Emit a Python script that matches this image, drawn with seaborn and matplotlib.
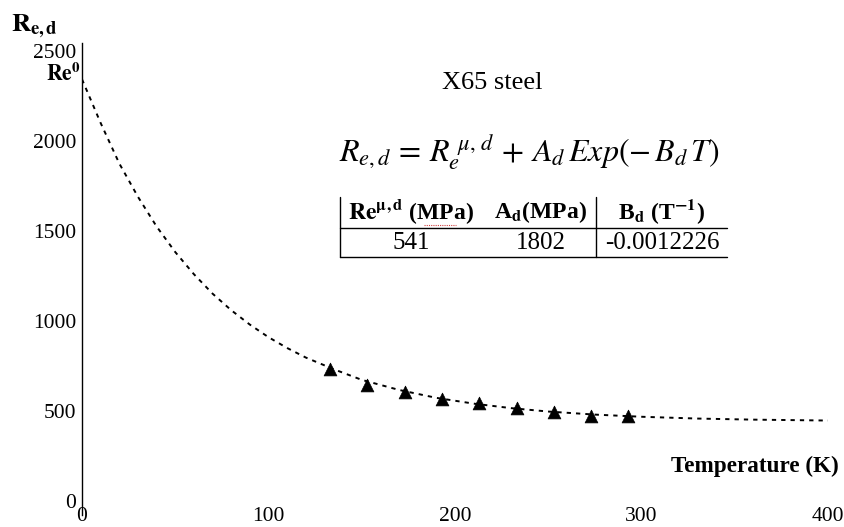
import numpy as np
import pandas as pd
import matplotlib
matplotlib.use("Agg")
import matplotlib.pyplot as plt
import matplotlib.transforms as mtransforms
from matplotlib.lines import Line2D
from matplotlib.ticker import MultipleLocator
import seaborn as sns

# ---- data ----
fit_T = [0, 10, 20, 30, 40, 50, 60, 70, 80, 90, 100, 110, 120, 135, 150, 170,
         190, 210, 230, 250, 275, 300, 330, 360, 400]
fit_R = [2343, 2100, 1875, 1690, 1525, 1383, 1260, 1152, 1060, 980, 910, 850,
         797, 732, 673, 617, 573, 541, 516, 497, 480, 468, 458, 452, 447]

exp_T = [133, 153, 173, 193, 213, 233, 253, 273, 293]
exp_R = [733, 645, 606, 566, 542, 515, 496, 472, 470]

table_headers = [r"$\mathbf{Re}^{\mathbf{\mu,d}}$ (MPa)", r"A$_{\mathbf{d}}$(MPa)", r"B$_{\mathbf{d}}$ (T$^{\mathbf{-1}}$)"]
table_values = ["541", "1802", "-0.0012226"]
RE_MU_D = 541
A_D = 1802

x_ticks = [0, 100, 200, 300, 400]
y_ticks = [0, 500, 1000, 1500, 2000, 2500]

# ---- style ----
sns.set_style("white")
plt.rcParams["font.family"] = ["Liberation Serif", "DejaVu Serif"]
plt.rcParams["mathtext.fontset"] = "stix"

W, H = 845, 527
fig = plt.figure(figsize=(W / 100, H / 100), dpi=100)

def fx(px):
    return px / W

def fy(py):
    return 1 - py / H

# axes: x 0..400 -> px 82..828 ; y scale 0.18 px/unit, y=0 at px 501
y_lo, y_hi = -80, 2545
top_px = 501 - y_hi * 0.18
bot_px = 501 - y_lo * 0.18
ax = fig.add_axes([fx(82), fy(bot_px), fx(828) - fx(82), (bot_px - top_px) / H])

fit_df = pd.DataFrame({"T": fit_T, "R": fit_R})
exp_df = pd.DataFrame({"T": exp_T, "R": exp_R})

sns.lineplot(data=fit_df, x="T", y="R", ax=ax, color="black", lw=1.4,
             linestyle=(0, (2.2, 2.6)), estimator=None, sort=True)
sns.scatterplot(data=exp_df, x="T", y="R", ax=ax, marker="^", s=85,
                color="black", edgecolor="black", linewidth=0.5, zorder=5)

ax.set_xlim(0, 400)
ax.set_ylim(y_lo, y_hi)
ax.set_xlabel("")
ax.set_ylabel("")

for s in ["top", "right"]:
    ax.spines[s].set_visible(False)
ax.spines["left"].set_color("black")
ax.spines["left"].set_linewidth(1.0)
ax.spines["bottom"].set_position(("data", 0))
ax.spines["bottom"].set_visible(False)

ax.set_xticks(x_ticks)
ax.set_xticklabels([str(v) for v in x_ticks])
ax.xaxis.set_minor_locator(MultipleLocator(20))
ax.set_yticks(y_ticks)
ax.set_yticklabels([str(v) for v in y_ticks])
ax.yaxis.set_minor_locator(MultipleLocator(100))

ax.tick_params(axis="x", which="both", direction="in", length=2.5, width=1.2,
               color="black", labelsize=15.5, pad=4)
ax.tick_params(axis="y", which="major", direction="inout", length=6, width=1.0,
               color="black", labelsize=15.5, pad=1)
ax.tick_params(axis="y", which="minor", direction="in", length=3, width=0.8,
               color="black")
for lab in ax.get_xticklabels() + ax.get_yticklabels():
    lab.set_color("black")

# Re0 label at the curve intercept
blend = mtransforms.blended_transform_factory(ax.transAxes, ax.transData)
ax.text(-0.002, RE_MU_D + A_D + 25, r"$\mathbf{Re}^{\mathbf{0}}$", transform=blend,
        ha="right", va="center", fontsize=15.5, color="black")

# axis labels
fig.text(fx(11), fy(26), r"$\mathbf{R}_{\mathbf{e,d}}$", fontsize=19,
         ha="left", va="center", color="black")
fig.text(fx(839), fy(466), "Temperature (K)", fontsize=16.7, fontweight="bold",
         ha="right", va="center", color="black")

# title and equation
fig.text(fx(492), fy(83), "X65 steel", fontsize=19, ha="center", va="center",
         color="black")
fig.text(fx(529), fy(152),
         r"$R_{e,d}\, =\, R_e^{\ \mu,\,d}\, +\, A_d\, Exp(-\, B_d\, T)$",
         fontsize=23, ha="center", va="center", color="black")

# table
tx0, tx_mid, tx1 = 340, 596, 727
ty0, ty_mid, ty1 = 197, 228, 257
for (x0, y0, x1, y1) in [(tx0, ty_mid, tx1, ty_mid), (tx0, ty1, tx1, ty1),
                         (tx0, ty0, tx0, ty1), (tx_mid, ty0, tx_mid, ty1)]:
    fig.add_artist(Line2D([fx(x0), fx(x1)], [fy(y0), fy(y1)], color="black",
                          lw=1.0, transform=fig.transFigure))
col_x = [411, 541, 662]
for cx, htxt, vtxt in zip(col_x, table_headers, table_values):
    fig.text(fx(cx), fy(212), htxt, fontsize=17, fontweight="bold",
             ha="center", va="center", color="black")
    fig.text(fx(cx), fy(243), vtxt, fontsize=18, ha="center", va="center",
             color="black")
# red spell-check underline under MPa
fig.add_artist(Line2D([fx(424), fx(456)], [fy(225), fy(225)], color="#d04040",
                      lw=0.8, linestyle=(0, (1, 1)), transform=fig.transFigure))

fig.savefig("out.png", dpi=100, facecolor="white")
